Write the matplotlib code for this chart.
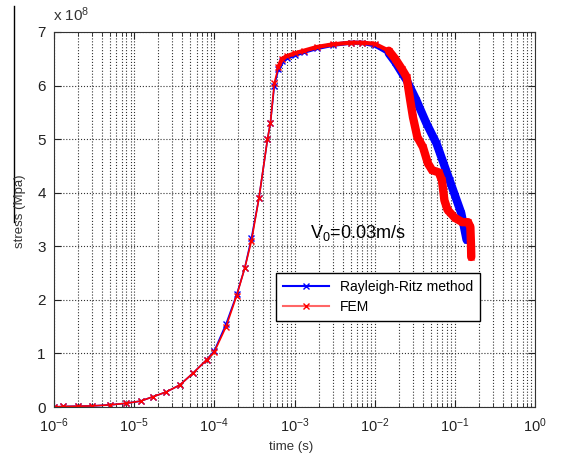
import numpy as np
import matplotlib.pyplot as plt
from matplotlib.lines import Line2D

plt.rcParams['font.family'] = ['Liberation Sans', 'DejaVu Sans']
plt.rcParams['mathtext.fontset'] = 'custom'
plt.rcParams['mathtext.rm'] = 'Liberation Sans'
plt.rcParams['mathtext.it'] = 'Liberation Sans'

# Rayleigh-Ritz method (stress in units of 1e8)
t_rr = [1.0e-6, 1.3e-6, 2e-6, 3e-6, 5e-6, 8e-6, 1.2e-5, 1.7e-5, 2.5e-5, 3.7e-5,
        5.4e-5, 8e-5, 1.0e-4, 1.4e-4, 1.9e-4, 2.4e-4, 2.9e-4, 3.6e-4, 4.6e-4,
        5.0e-4, 5.6e-4, 6.3e-4, 7e-4, 8e-4, 1e-3, 1.3e-3, 1.9e-3, 3e-3, 5e-3,
        7e-3, 1e-2, 1.5e-2, 1.8e-2, 2.2e-2, 2.5e-2, 3.3e-2, 4.4e-2, 5.9e-2,
        8.6e-2, 0.12, 0.14]
s_rr = [0.0, 0.01, 0.015, 0.02, 0.04, 0.07, 0.11, 0.19, 0.28, 0.41,
        0.63, 0.88, 1.05, 1.55, 2.1, 2.6, 3.15, 3.9, 5.0,
        5.3, 6.0, 6.3, 6.45, 6.52, 6.57, 6.63, 6.7, 6.76, 6.8,
        6.8, 6.75, 6.6, 6.44, 6.23, 6.1, 5.73, 5.3, 4.92,
        4.23, 3.62, 3.12]

# FEM
t_fem = [1.0e-6, 1.3e-6, 2e-6, 3e-6, 5e-6, 8e-6, 1.2e-5, 1.7e-5, 2.5e-5, 3.7e-5,
         5.4e-5, 8e-5, 1.0e-4, 1.4e-4, 1.9e-4, 2.4e-4, 2.9e-4, 3.6e-4, 4.6e-4,
         5.0e-4, 5.6e-4, 6.3e-4, 7e-4, 8e-4, 1e-3, 1.3e-3, 1.9e-3, 3e-3, 5e-3,
         7e-3, 1e-2, 1.5e-2, 1.8e-2, 2.2e-2, 2.5e-2, 2.77e-2, 3e-2, 3.4e-2,
         4e-2, 4.6e-2, 5.2e-2, 6.3e-2, 6.9e-2, 7.4e-2, 8.1e-2, 0.1, 0.124,
         0.146, 0.156, 0.159, 0.16]
s_fem = [0.0, 0.01, 0.015, 0.02, 0.04, 0.07, 0.11, 0.19, 0.28, 0.41,
         0.63, 0.88, 1.03, 1.5, 2.08, 2.6, 3.1, 3.9, 5.0,
         5.3, 6.05, 6.35, 6.5, 6.55, 6.6, 6.65, 6.72, 6.77, 6.8,
         6.8, 6.78, 6.65, 6.5, 6.3, 6.16, 5.73, 5.41, 5.04,
         4.85, 4.55, 4.42, 4.38, 4.23, 3.86, 3.68, 3.53, 3.45,
         3.45, 3.36, 3.0, 2.8]

x_ticks = [1e-6, 1e-5, 1e-4, 1e-3, 1e-2, 1e-1, 1e0]
x_labels = ['$10^{-6}$', '$10^{-5}$', '$10^{-4}$', '$10^{-3}$', '$10^{-2}$', '$10^{-1}$', '$10^{0}$']
y_ticks = [0, 1, 2, 3, 4, 5, 6, 7]

fig = plt.figure(figsize=(5.65, 4.57), dpi=100)
ax = fig.add_axes([0.0956, 0.1094, 0.8514, 0.8206])

t_rr = np.array(t_rr); s_rr = np.array(s_rr)
t_fem = np.array(t_fem); s_fem = np.array(s_fem)

# thin part with markers, then thicker overlays where the original markers crowd together
ax.plot(t_rr, s_rr, '-x', color='b', lw=1.2, ms=4, mew=1)
m = t_rr >= 6e-4
ax.plot(t_rr[m], s_rr[m], '-', color='b', lw=3)
m = t_rr >= 1.5e-2
ax.plot(t_rr[m], s_rr[m], '-', color='b', lw=6, solid_capstyle='round')

ax.plot(t_fem, s_fem, '-x', color='r', lw=1.2, ms=4, mew=1)
m = t_fem >= 6e-4
ax.plot(t_fem[m], s_fem[m], '-', color='r', lw=3)
m = t_fem >= 1.5e-2
ax.plot(t_fem[m], s_fem[m], '-', color='r', lw=6, solid_capstyle='round')

ax.set_xscale('log')
ax.set_xlim(1e-6, 1)
ax.set_ylim(0, 7)
ax.set_xticks(x_ticks)
ax.set_xticklabels(x_labels, fontsize=10.5)
ax.set_yticks(y_ticks)
ax.set_yticklabels([str(v) for v in y_ticks], fontsize=11)
ax.tick_params(which='both', direction='in', top=True, right=True, colors='#222222')
ax.tick_params(which='major', length=5)
ax.tick_params(axis='x', which='major', pad=7)
ax.tick_params(axis='y', which='major', pad=6)
ax.tick_params(which='minor', length=3)
ax.grid(True, which='major', ls=':', color='#333333', lw=0.8)
ax.grid(True, which='minor', axis='x', ls=':', color='#333333', lw=0.8)
for sp in ax.spines.values():
    sp.set_color('#333333')

fig.text(0.094, 0.955, 'x 10$^8$', fontsize=11, color='#333333')
fig.text(0.516, 0.015, 'time (s)', fontsize=9.5, ha='center', color='#333333')
fig.text(0.035, 0.538, 'stress (Mpa)', fontsize=9.5, rotation=90, ha='center', va='center', color='#333333')
ax.text(0.532, 0.45, '$V_0$=0.03m/s', fontsize=13, transform=ax.transAxes)
fig.add_artist(Line2D([0.0248, 0.0248], [0.986, 0.514], color='k', lw=1))

handles = [Line2D([], [], color='b', marker='x', ms=4, lw=1.5),
           Line2D([], [], color='#ff6666', marker='x', ms=4, mec='r', lw=1.5)]
leg = ax.legend(handles, ['Rayleigh-Ritz method', 'FEM'], loc='upper left',
                bbox_to_anchor=(0.461, 0.357), fontsize=10, fancybox=False,
                framealpha=1, edgecolor='k', borderaxespad=0, handlelength=3.3,
                labelspacing=0.45, borderpad=0.5)
leg.get_frame().set_linewidth(1)

fig.savefig('out.png', dpi=100)
